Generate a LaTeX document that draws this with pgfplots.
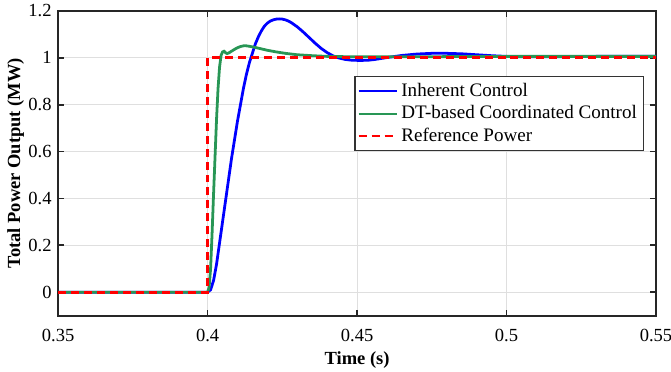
\documentclass[border=0pt]{standalone}
\usepackage{fontspec}
\setmainfont{Liberation Serif}
\usepackage{pgfplots}
\pgfplotsset{compat=1.18}
\definecolor{cblue}{RGB}{0,0,255}
\definecolor{cgreen}{RGB}{40,150,85}
\definecolor{cred}{RGB}{255,0,0}
\begin{document}
\begin{tikzpicture}[font=\fontsize{10}{12}\selectfont]
\begin{axis}[
  name=ax,
  scale only axis,
  width=323pt, height=164.6pt,
  xmin=0.35, xmax=0.55, ymin=-0.1, ymax=1.2,
  xtick={0.35,0.4,0.45,0.5,0.55},
  ytick={0,0.2,0.4,0.6,0.8,1,1.2},
  xticklabels={0.35,0.4,0.45,0.5,0.55},
  yticklabels={0,0.2,0.4,0.6,0.8,1,1.2},
  /pgf/number format/assume math mode=true,
  xticklabel style={yshift=-3.8pt},
  tick align=inside,
  major tick length=3.2pt,
  tick style={black!85, line width=0.9pt},
  axis line style={black!85, line width=1.1pt},
  grid=major,
  grid style={gray!25, line width=0.6pt},
  xlabel={\textbf{Time (s)}},
  ylabel={\textbf{Total Power Output (MW)}},
  ylabel style={yshift=-4.5pt},
  xlabel style={yshift=1.7pt},
  legend cell align=left,
  legend style={at={(1,1)}, anchor=north east, xshift=-6.5pt, yshift=-35.2pt,
    draw=black!80, line width=0.7pt, inner sep=1.5pt, row sep=-0.5pt,
    font=\fontsize{10.3}{12}\selectfont},
  legend image post style={line width=1.1pt},
  legend image code/.code={\draw[#1] (0cm,0cm) -- (0.72cm,0cm);},
]
\addplot[cblue, line width=1.5pt] coordinates {
(0.35,0) (0.4,0) (0.401,0.01) (0.402,0.05) (0.403,0.12) (0.404,0.21) (0.405,0.30)
(0.406,0.39) (0.407,0.48) (0.408,0.57) (0.409,0.65) (0.410,0.73) (0.411,0.80)
(0.412,0.87) (0.413,0.93) (0.414,0.98) (0.415,1.02) (0.416,1.06) (0.417,1.09)
(0.418,1.115) (0.419,1.135) (0.420,1.148) (0.421,1.157) (0.422,1.162) (0.423,1.165)
(0.424,1.166) (0.425,1.165) (0.426,1.162) (0.427,1.157) (0.428,1.150) (0.430,1.132)
(0.432,1.110) (0.434,1.086) (0.436,1.062) (0.438,1.040) (0.440,1.022) (0.442,1.008)
(0.444,0.999) (0.446,0.993) (0.448,0.990) (0.450,0.989) (0.452,0.989) (0.454,0.990)
(0.456,0.993) (0.458,0.997) (0.460,1.001) (0.465,1.010) (0.470,1.016) (0.475,1.019)
(0.480,1.019) (0.485,1.017) (0.490,1.013) (0.495,1.009) (0.500,1.006) (0.505,1.004)
(0.510,1.004) (0.520,1.005) (0.530,1.006) (0.540,1.006) (0.550,1.006)
};
\addlegendentry{Inherent Control}
\addplot[cgreen, line width=1.5pt] coordinates {
(0.35,0) (0.4,0) (0.4005,0.02) (0.401,0.10) (0.4015,0.25) (0.402,0.42) (0.4025,0.58)
(0.403,0.74) (0.4035,0.87) (0.404,0.96) (0.4045,1.01) (0.405,1.025) (0.4055,1.028)
(0.406,1.022) (0.4065,1.018) (0.407,1.02) (0.408,1.028) (0.409,1.036) (0.410,1.043)
(0.411,1.048) (0.412,1.051) (0.413,1.051) (0.414,1.049) (0.416,1.044) (0.418,1.038)
(0.420,1.032) (0.423,1.025) (0.426,1.019) (0.430,1.013) (0.435,1.009) (0.440,1.006)
(0.450,1.004) (0.460,1.004) (0.480,1.005) (0.500,1.006) (0.550,1.006)
};
\addlegendentry{DT-based Coordinated Control}
\addplot[cred, line width=1.5pt, dash pattern=on 4.3pt off 2.7pt] coordinates {
(0.35,0) (0.4,0) (0.4,1) (0.55,1)
};
\addlegendentry{Reference Power}
\end{axis}
\pgfresetboundingbox
\path ([shift={(-31.4pt,-30pt)}]ax.south west) rectangle ([shift={(8.1pt,5.9pt)}]ax.north east);
\end{tikzpicture}
\end{document}
